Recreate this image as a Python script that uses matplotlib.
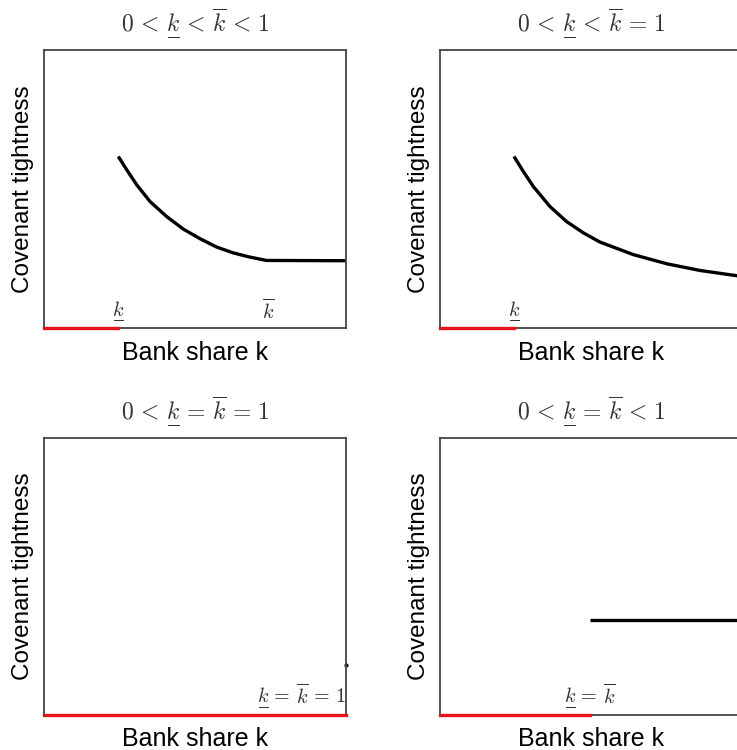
import matplotlib
matplotlib.use('Agg')
import matplotlib.pyplot as plt

plt.rcParams['font.family'] = ['Liberation Sans', 'DejaVu Sans']
plt.rcParams['mathtext.fontset'] = 'cm'

# panel (a): 0 < k_lo < k_hi < 1
a_x = [0.246, 0.274, 0.307, 0.351, 0.406, 0.461, 0.517, 0.572, 0.627, 0.682, 0.737, 1.0]
a_y = [0.617, 0.569, 0.515, 0.455, 0.401, 0.356, 0.321, 0.291, 0.270, 0.255, 0.243, 0.242]
a_klo, a_khi = 0.245, 0.742

# panel (b): 0 < k_lo < k_hi = 1
b_x = [0.245, 0.276, 0.309, 0.364, 0.419, 0.475, 0.530, 0.640, 0.751, 0.861, 0.983, 1.0]
b_y = [0.617, 0.563, 0.509, 0.437, 0.383, 0.342, 0.309, 0.264, 0.231, 0.207, 0.188, 0.186]
b_klo, b_khi = 0.245, 1.0

# panel (c): k_lo = k_hi = 1
c_klo = 1.0
c_dot = (1.0, 0.18)

# panel (d): k_lo = k_hi < 1
d_k = 0.497
d_level = 0.343

UL = r'\underset{\overline{\ \ }}{k}'
REL = lambda s: r'\,' + s + r'\,'
titles = ['$0' + REL('<') + UL + REL('<') + r'\overline{k}' + REL('<') + '1$',
          '$0' + REL('<') + UL + REL('<') + r'\overline{k}' + REL('=') + '1$',
          '$0' + REL('<') + UL + REL('=') + r'\overline{k}' + REL('=') + '1$',
          '$0' + REL('<') + UL + REL('=') + r'\overline{k}' + REL('<') + '1$']

fig = plt.figure(figsize=(7.37, 7.5), dpi=100)
W, H = 737.0, 750.0
rects = [(44, 50, 302, 278), (440, 50, 302, 278),
         (44, 438, 302, 277), (440, 438, 302, 277)]
axes = []
for (l, t, w, h) in rects:
    ax = fig.add_axes([l / W, 1 - (t + h) / H, w / W, h / H])
    ax.set_xlim(0, 1)
    ax.set_ylim(0, 1)
    ax.set_xticks([])
    ax.set_yticks([])
    for s in ax.spines.values():
        s.set_color('#444444')
        s.set_linewidth(1.3)
    ax.set_xlabel('Bank share k', fontsize=18, labelpad=9)
    ax.set_ylabel('Covenant tightness', fontsize=17.5, labelpad=7)
    axes.append(ax)

lw = 2.4
red = '#e8141c'
lab_fs = 14.5
gray = '#333333'

ax = axes[0]
ax.plot(a_x, a_y, color='black', lw=lw, solid_capstyle='butt', solid_joinstyle='round')
ax.plot([0, a_klo], [0, 0], color=red, lw=lw, clip_on=False, zorder=5)
ax.text(a_klo, 0.02, '$' + UL + '$', ha='center', va='bottom', fontsize=lab_fs, color=gray)
ax.text(a_khi, 0.02, r'$\overline{k}$', ha='center', va='bottom', fontsize=lab_fs, color=gray)

ax = axes[1]
ax.plot(b_x, b_y, color='black', lw=lw, solid_capstyle='butt', solid_joinstyle='round')
ax.plot([0, b_klo], [0, 0], color=red, lw=lw, clip_on=False, zorder=5)
ax.text(b_klo, 0.02, '$' + UL + '$', ha='center', va='bottom', fontsize=lab_fs, color=gray)
ax.text(b_khi, 0.02, r'$\overline{k}$', ha='center', va='bottom', fontsize=lab_fs, color=gray)

ax = axes[2]
ax.plot([0, c_klo], [0, 0], color=red, lw=lw, clip_on=False, zorder=5)
ax.plot([c_dot[0]], [c_dot[1]], marker='o', ms=2, color='black', clip_on=False)
ax.text(c_klo, 0.02, '$' + UL + REL('=') + r'\overline{k}' + REL('=') + '1$',
        ha='right', va='bottom', fontsize=lab_fs, color=gray)

ax = axes[3]
ax.plot([d_k, 1.0], [d_level, d_level], color='black', lw=lw, solid_capstyle='butt')
ax.plot([0, d_k], [0, 0], color=red, lw=lw, clip_on=False, zorder=5)
ax.text(d_k, 0.02, '$' + UL + REL('=') + r'\overline{k}$', ha='center', va='bottom',
        fontsize=lab_fs, color=gray)

for ax, t in zip(axes, titles):
    ax.set_title(t, fontsize=17, pad=14, color=gray)

fig.savefig('out.png', dpi=100)
